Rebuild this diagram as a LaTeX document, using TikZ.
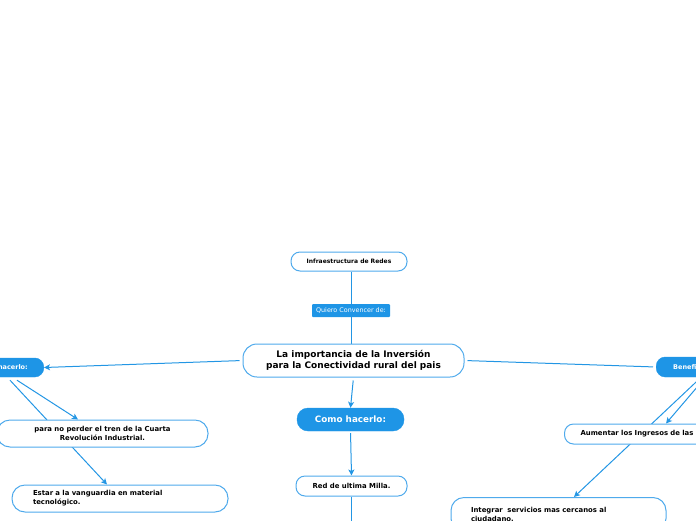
\documentclass[tikz,border=0pt]{standalone}
\usepackage{fontspec}
\setmainfont{DejaVu Sans}
\usepackage{xcolor}
\usepackage{tikz}
\usetikzlibrary{arrows.meta,backgrounds}
\definecolor{mmblue}{HTML}{1E95E6}
\definecolor{edge}{HTML}{4FAAEC}
\definecolor{wire}{HTML}{2396E4}

\tikzset{
  topic/.style={draw=edge, line width=1pt, rounded corners=9pt, fill=white,
                align=center, inner sep=0pt, font=\bfseries\fontsize{6.9}{9}\selectfont},
  hub/.style={draw=mmblue, fill=mmblue, text=white, rounded corners=9pt,
              align=center, inner sep=0pt, font=\bfseries\fontsize{6.5}{9}\selectfont},
  tag/.style={fill=mmblue, text=white, rounded corners=1pt, inner sep=0pt,
              minimum width=78pt, minimum height=13pt, font=\fontsize{6.4}{8}\selectfont},
  link/.style={draw=wire, line width=1pt},
  arrow/.style={link, -{Stealth[length=6pt,width=6pt,inset=1.5pt]}}
}

\begin{document}
\begin{tikzpicture}[x=1pt, y=-1pt]
  \useasboundingbox (0,0) rectangle (696,520);
  \clip (0,0) rectangle (696,520);

  \node[topic, minimum width=116pt, minimum height=19pt,
        font=\bfseries\fontsize{6}{9}\selectfont] (infra) at (349,261.5) {Infraestructura de Redes};
  \node[tag] (quiero) at (351,310.5) {Quiero Convencer de:};
  \node[topic, minimum width=221pt, minimum height=33pt, rounded corners=14pt,
        font=\bfseries\fontsize{9}{11}\selectfont] (centre) at (353.5,360.5)
        {La importancia de la Inversión\\para la Conectividad rural del pais};

  % left branch
  \node[hub, anchor=east, text width=60pt, align=right, inner xsep=16pt,
        minimum height=19pt] (hacer) at (44,367.5) {hacerlo:};
  \node[topic, minimum width=211pt, minimum height=27pt, rounded corners=13pt] (para) at (102.5,433.5)
        {para no perder el tren de la Cuarta\\Revolución Industrial.};
  \node[topic, text width=174pt, inner xsep=21pt, align=left, minimum height=27pt,
        rounded corners=13pt] (estar) at (120,498.5)
        {Estar a la vanguardia en material\\tecnológico.};

  % middle branch
  \node[hub, minimum width=107pt, minimum height=23pt, rounded corners=11pt,
        font=\bfseries\fontsize{8.8}{10}\selectfont] (como) at (350.5,419.5) {Como hacerlo:};
  \node[topic, minimum width=111pt, minimum height=20pt] (red) at (351.5,486) {Red de ultima Milla.};
  \coordinate (tail) at (351.5,530);

  % right branch
  \node[hub, anchor=west, text width=60pt, align=left, inner xsep=17pt,
        minimum height=20pt] (benef) at (656,367) {Beneficios};
  \node[topic, anchor=west, text width=150pt, inner xsep=16pt, align=left,
        minimum height=20pt] (aumentar) at (564,434) {Aumentar los Ingresos de las};
  \node[topic, anchor=north, text width=175pt, inner xsep=20pt, align=left,
        minimum height=34pt, rounded corners=13pt] (integrar) at (558.5,497)
        {Integrar\ \ servicios mas cercanos al\\ciudadano.};

  \begin{pgfonlayer}{background}
    \clip (0,0) rectangle (696,520);
    \draw[link] (infra.south -| quiero) -- (quiero) -- (centre.north -| quiero);
    \draw[arrow, shorten <=3pt] (centre.west) -- (hacer.east);
    \draw[link, shorten <=3pt, shorten >=3pt] (centre.east) -- (benef.west);
    \draw[arrow, shorten <=3pt] (centre.south) -- (como.north);
    \draw[arrow, shorten <=2pt] (como.south) -- (red.north);
    \draw[link] (red.south) -- (tail);
    \draw[arrow] ([xshift=-27pt,yshift=-3pt]hacer.south east) -- ([xshift=-24.5pt]para.north);
    \draw[arrow] ([xshift=-34pt,yshift=-3pt]hacer.south east) -- ([xshift=-13pt]estar.north);
    \draw[arrow] ([xshift=47pt,yshift=-3pt]benef.south west) -- ([xshift=102pt]aumentar.north west);
    \draw[arrow] ([xshift=42pt,yshift=-3pt]benef.south west) -- ([xshift=15.5pt]integrar.north);
  \end{pgfonlayer}
\end{tikzpicture}
\end{document}
